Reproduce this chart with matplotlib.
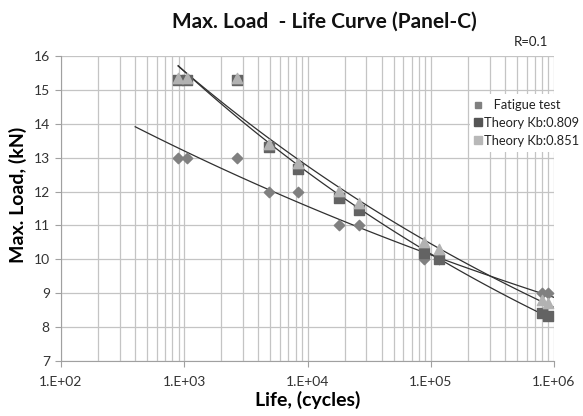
import numpy as np
import matplotlib
matplotlib.use("Agg")
import matplotlib.pyplot as plt
from matplotlib.lines import Line2D
from matplotlib.ticker import FixedLocator, LogLocator, NullFormatter

plt.rcParams["font.family"] = ["Lato", "DejaVu Sans"]

# fatigue test results (life in cycles, max load in kN)
test_life = [893, 1045, 2660, 4860, 8320, 18070, 25950, 87900, 117000, 792000, 897000]
test_load = [13.0, 13.0, 13.0, 12.0, 12.0, 11.0, 11.0, 10.0, 10.0, 9.0, 9.0]

# theory predictions at the same lives
theory_life = [893, 1045, 2660, 4860, 8320, 18070, 25950, 87900, 117000, 792000, 897000]
kb809_load = [15.3, 15.3, 15.3, 13.3, 12.66, 11.82, 11.46, 10.2, 10.0, 8.42, 8.32]
kb851_load = [15.35, 15.35, 15.35, 13.4, 12.83, 12.02, 11.65, 10.5, 10.3, 8.8, 8.7]

x_ticks = [1e2, 1e3, 1e4, 1e5, 1e6]
x_labels = ["1.E+02", "1.E+03", "1.E+04", "1.E+05", "1.E+06"]
y_ticks = [7, 8, 9, 10, 11, 12, 13, 14, 15, 16]


def power_fit(x, y):
    # excel style power trendline: y = a * x^b
    b, lna = np.polyfit(np.log(x), np.log(y), 1)
    return lambda xx: np.exp(lna) * np.asarray(xx) ** b


fig = plt.figure(figsize=(5.83, 4.16), dpi=100)
ax = fig.add_axes([0.1046, 0.1322, 0.8457, 0.7332])

ax.set_xscale("log")
ax.set_xlim(1e2, 1e6)
ax.set_ylim(7, 16)

grid_c = "#c4c4c4"
ax.xaxis.set_major_locator(FixedLocator(x_ticks))
ax.xaxis.set_minor_locator(LogLocator(base=10, subs=np.arange(2, 10)))
ax.xaxis.set_minor_formatter(NullFormatter())
ax.set_xticks(x_ticks)
ax.set_xticklabels(x_labels)
ax.set_yticks(y_ticks)
ax.grid(which="major", axis="both", color=grid_c, lw=0.9)
ax.grid(which="minor", axis="x", color=grid_c, lw=0.9)
ax.set_axisbelow(True)

for s in ["top", "right"]:
    ax.spines[s].set_visible(False)
for s in ["left", "bottom"]:
    ax.spines[s].set_color("#a0a0a0")
ax.tick_params(which="major", length=4, color="#a0a0a0", labelsize=10,
               labelcolor="#333333", pad=4)
ax.tick_params(which="minor", length=0)
ax.tick_params(axis="x", pad=7)

# trendlines
fit_t = power_fit(test_life, test_load)
xs = np.logspace(np.log10(400), 6, 100)
ax.plot(xs, fit_t(xs), color="#303030", lw=0.9, zorder=3)

fit_a = power_fit(theory_life, kb809_load)
fit_b = power_fit(theory_life, kb851_load)
xs2 = np.logspace(np.log10(min(theory_life)), 6, 100)
ax.plot(xs2, fit_a(xs2), color="#303030", lw=0.9, zorder=3)
ax.plot(xs2, fit_b(xs2), color="#303030", lw=0.9, zorder=3)

ax.scatter(test_life, test_load, marker="D", s=28, color="#808080", zorder=4)
ax.scatter(theory_life, kb809_load, marker="s", s=48, color="#636363", zorder=4)
ax.scatter(theory_life, kb851_load, marker="^", s=55, color="#b2b2b2", zorder=5)

# legend (square swatches like excel)
handles = [
    Line2D([], [], ls="none", marker="s", ms=5, color="#808080"),
    Line2D([], [], ls="none", marker="s", ms=6, color="#555555"),
    Line2D([], [], ls="none", marker="s", ms=6, color="#b8b8b8"),
]
leg = fig.legend(handles, ["   Fatigue test", "Theory Kb:0.809", "Theory Kb:0.851"],
                 loc="upper left", bbox_to_anchor=(470 / 583, 1 - 94 / 416),
                 bbox_transform=fig.transFigure, frameon=True,
                 fontsize=9.3, handlelength=0.5, handletextpad=0.15,
                 borderpad=0.4, labelspacing=0.45, fancybox=False, borderaxespad=0)
leg.get_frame().set_edgecolor("white")
leg.get_frame().set_facecolor("white")
leg.get_frame().set_alpha(1)
leg.get_frame().set_linewidth(0)
for t in leg.get_texts():
    t.set_color("#222222")

fig.text(0.556, 0.947, "Max. Load  - Life Curve (Panel-C)", ha="center", va="center",
         fontsize=15, fontweight="bold", color="#111111")
fig.text(0.91, 0.9, "R=0.1", ha="center", va="center", fontsize=9.5, color="#222222")
ax.set_xlabel("Life, (cycles)", fontsize=14, fontweight="bold", labelpad=2)
ax.set_ylabel("Max. Load, (kN)", fontsize=14, fontweight="bold")
ax.yaxis.set_label_coords(-0.069, 0.545)

fig.savefig("out.png", dpi=100)
